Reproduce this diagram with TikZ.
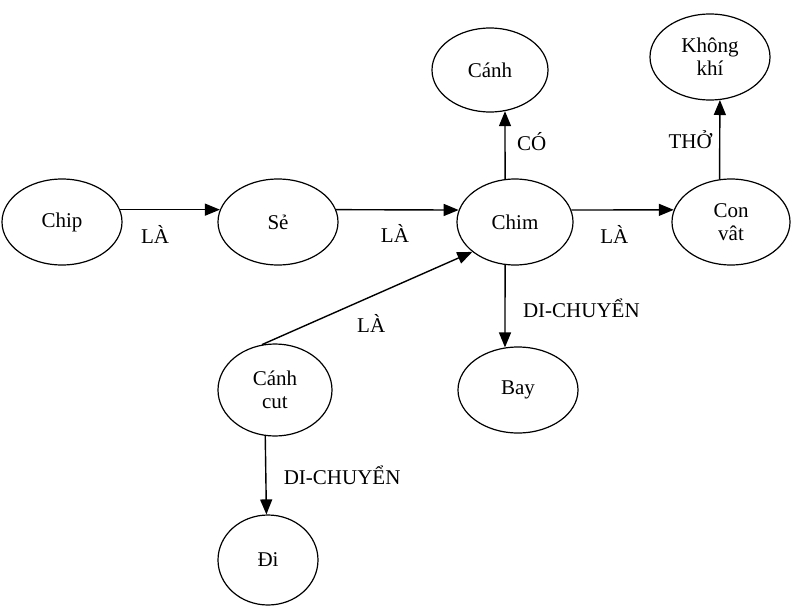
\documentclass[tikz,border=0pt]{standalone}
\usepackage{fontspec}
\setmainfont{Liberation Serif}
\usetikzlibrary{arrows.meta,shapes.geometric}
\begin{document}
\begin{tikzpicture}[x=1pt,y=-1pt,
  ell/.style={draw,ellipse,line width=1.2pt,inner sep=0pt,align=center,font=\fontsize{21}{23}\selectfont},
  arr/.style={line width=1.4pt,-{Triangle[length=15pt,width=12pt]}},
  lbl/.style={font=\fontsize{21}{23}\selectfont}]
\useasboundingbox (0,0) rectangle (795,608);
\node[ell,minimum width=120pt,minimum height=86pt] (chip) at (62,222) {Chip};
\node[ell,minimum width=120pt,minimum height=86pt] (se) at (278,222) {Sẻ};
\node[ell,minimum width=116pt,minimum height=86pt] (chim) at (515,222) {Chim};
\node[ell,minimum width=116pt,minimum height=84pt] (canh) at (490,70) {Cánh};
\node[ell,minimum width=120pt,minimum height=86pt] (khong) at (710,57) {Không\\khí};
\node[ell,minimum width=118pt,minimum height=86pt] (convat) at (731,222) {Con\\vât};
\node[ell,minimum width=120pt,minimum height=86pt] (bay) at (518,390) {Bay};
\node[ell,minimum width=114pt,minimum height=92pt] (canhcut) at (275,390) {Cánh\\cut};
\node[ell,minimum width=100pt,minimum height=90pt] (di) at (268,560) {Đi};

\draw[arr] (chip.12) -- (se.168) node[lbl,pos=0.35,below=12pt] {LÀ};
\draw[arr] (se.12) -- (chim.168) node[lbl,pos=0.48,below=11pt] {LÀ};
\draw[arr] (chim.12) -- (convat.168) node[lbl,pos=0.42,below=11pt] {LÀ};
\draw[arr] (chim.103) -- (canh.290) node[lbl,pos=0.55,right=8pt] {CÓ};
\draw[arr] (convat.105) -- (khong.283) node[lbl,midway,left=4pt] {THỞ};
\draw[arr] (chim.257) -- (bay.107) node[lbl,pos=0.5,right=14pt,yshift=-2pt] {DI-CHUYỂN};
\draw[arr] (canhcut.106) -- (chim.215) node[lbl,pos=0.5,below right=6pt,xshift=-20pt,yshift=-6pt] {LÀ};
\draw[arr] (canhcut.258) -- (di.92) node[lbl,pos=0.45,right=14pt,yshift=-4pt] {DI-CHUYỂN};
\end{tikzpicture}
\end{document}
